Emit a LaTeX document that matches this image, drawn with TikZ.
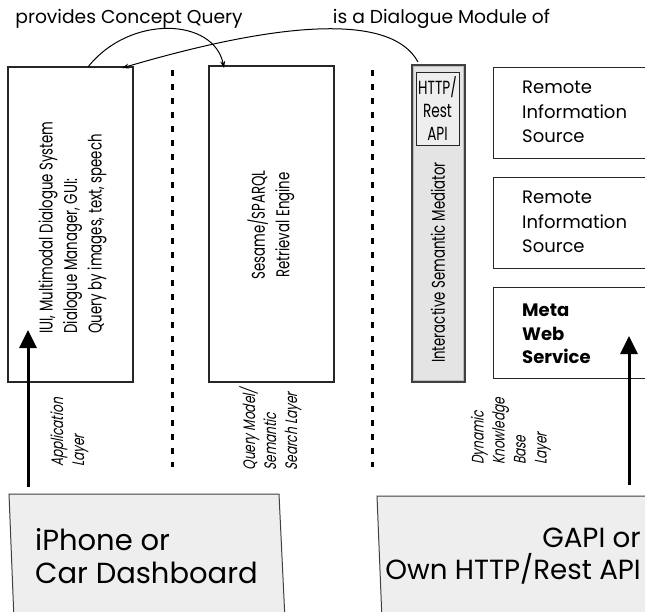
\documentclass[tikz,border=0pt]{standalone}
\usepackage{fontspec}
\setmainfont{Poppins}
\newfontfamily\condfont{Poppins}[FakeStretch=0.72]
\newfontfamily\condit{Poppins}[FakeStretch=0.72,FakeSlant=0.2]
\usetikzlibrary{arrows.meta}
\definecolor{boxfill}{HTML}{EEEEEE}
\definecolor{medfill}{HTML}{E4E4E4}
\definecolor{apifill}{HTML}{EEEEEE}
\begin{document}
\begin{tikzpicture}[x=1pt,y=-1pt,
  box/.style={draw=black!85,line width=1.1pt,fill=white,inner sep=0pt},
  condtext/.style={font=\condfont\fontsize{18.5}{24.5}\selectfont,inner sep=0pt},
  layertext/.style={font=\condit\fontsize{16.7}{21}\selectfont,inner sep=0pt,align=left,rotate=90},
  remtext/.style={font=\fontsize{18}{24.5}\selectfont,inner sep=0pt,align=left,anchor=west},
  bigtext/.style={inner sep=0pt},
  toptext/.style={font=\fontsize{18.7}{22}\selectfont,inner sep=0pt,anchor=base},
  bigarrow/.style={line width=3pt,-{Triangle[length=18pt,width=17pt]}},
  curvearrow/.style={line width=1pt,-{Stealth[length=7pt,width=5pt]}},
  sep/.style={line width=3pt,dash pattern=on 6pt off 8pt},
  bottombox/.style={draw=black!75,line width=1pt,fill=boxfill}]
\useasboundingbox (0,0) rectangle (645,611);
\clip (0,0) rectangle (645,611);

% top labels
\node[toptext] (t1) at (129,23) {provides Concept Query};
\node[toptext] (t2) at (441.5,23) {is a Dialogue Module of};

% separators
\coordinate (s1a) at (172,70); \coordinate (s1b) at (172,467);
\coordinate (s2a) at (372,70); \coordinate (s2b) at (372,467);
\draw[sep] (s1a) -- (s1b);
\draw[sep] (s2a) -- (s2b);

% boxes
\node[box,minimum width=125pt,minimum height=315pt] (iui) at (70.5,224.5) {};
\node[condtext,rotate=90,align=left] (iuit) at (72.5,227.5)
  {IUI, Multimodal Dialogue System\\Dialogue Manager, GUI:\\Query by images, text, speech};

\node[box,minimum width=125pt,minimum height=316pt] (ses) at (271.5,224) {};
\node[condtext,rotate=90,align=center] (sest) at (271,225)
  {Sesame/SPARQL\\Retrieval Engine};

\node[box,fill=medfill,draw=black!75,line width=1.4pt,minimum width=53pt,minimum height=317pt] (med) at (438.5,223.5) {};
\draw[gray!55,line width=0.6pt] ([shift={(2.2pt,-2.2pt)}]med.north west) rectangle ([shift={(-2.2pt,2.2pt)}]med.south east);
\node[box,fill=apifill,line width=1pt,minimum width=43pt,minimum height=73pt,align=center,
  font=\condfont\fontsize{19}{23}\selectfont] (api) at (437.5,108.5) {HTTP/\\Rest\\API};
\node[condtext,rotate=90] (medt) at (438,262.5) {Interactive Semantic Mediator};

\node[box,minimum width=170pt,minimum height=91pt,anchor=north west] (r1) at (493,67) {};
\node[remtext] (r1t) at (522,112) {Remote\\Information\\Source};
\node[box,minimum width=170pt,minimum height=91pt,anchor=north west] (r2) at (493,177) {};
\node[remtext] (r2t) at (522,222) {Remote\\Information\\Source};
\node[box,minimum width=170pt,minimum height=91pt,anchor=north west] (r3) at (493,287) {};
\node[remtext,font=\bfseries\fontsize{18}{23.5}\selectfont] (r3t) at (522,334) {Meta\\Web\\Service};

% layer labels
\node[layertext] (l1) at (69.5,432.5) {Application\\Layer};
\node[layertext] (l2) at (270.5,429.5) {Query Model/\\Semantic\\Search Layer};
\node[layertext] (l3) at (511,431.5) {Dynamic\\Knowledge\\Base\\Layer};

% bottom boxes
\draw[bottombox] (9,494) -- (279,494) -- (285,620) -- (14,620) -- cycle;
\node[bigtext,align=left,anchor=west,font=\fontsize{29}{32.5}\selectfont] (phone) at (35,556) {iPhone or\\Car Dashboard};
\draw[bottombox] (377,496) -- (660,496) -- (660,620) -- (382,620) -- cycle;
\node[bigtext,align=right,anchor=east,font=\fontsize{27.7}{32.5}\selectfont] (gapi) at (641,556) {GAPI or\\Own HTTP/Rest API};

% big arrows
\coordinate (a1s) at (28,487); \coordinate (a1e) at (28,330);
\draw[bigarrow] (a1s) -- (a1e);
\coordinate (a2s) at (629,485); \coordinate (a2e) at (629,336);
\draw[bigarrow] (a2s) -- (a2e);

% curved arrows
\coordinate (c1s) at (88,67); \coordinate (c1e) at (224,68);
\draw[curvearrow] (c1s) .. controls (130,14) and (214,18) .. (c1e);
\coordinate (c2s) at (418,62); \coordinate (c2e) at (122,68);
\draw[curvearrow] (c2s) .. controls (392,14) and (285,20) .. (c2e);
\end{tikzpicture}
\end{document}
